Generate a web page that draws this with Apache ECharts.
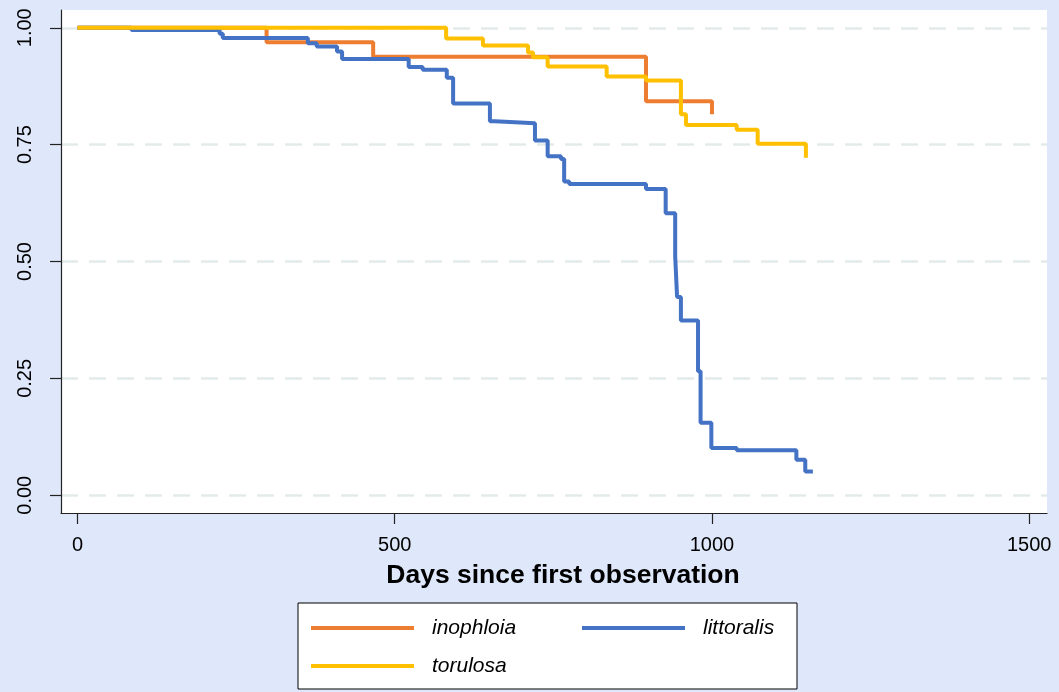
<!DOCTYPE html>
<html>
<head>
<meta charset="utf-8">
<script src="https://cdn.jsdelivr.net/npm/echarts@6/dist/echarts.min.js"></script>
<style>
  html, body { margin: 0; padding: 0; background: #dfe7fa; }
  #chart { width: 1059px; height: 692px; }
</style>
</head>
<body>
<div id="chart"></div>
<script>
// ---- data ----
const seriesNames = ['inophloia', 'littoralis', 'torulosa'];
const seriesColors = ['#ED7D31', '#4472C4', '#FFC000'];

const inophloiaDays = [0, 298, 466, 896, 1000];
const inophloiaSurv = [1.0, 0.969, 0.938, 0.843, 0.815];

const littoralisDays = [0, 85, 224, 229, 363, 377, 409, 417, 522, 544, 582, 592, 650, 658, 721, 741, 762, 767, 775, 896, 927, 942, 945, 951, 978, 982, 999, 1039, 1133, 1147, 1159];
const littoralisSurv = [1.0, 0.995, 0.987, 0.978, 0.967, 0.960, 0.949, 0.933, 0.916, 0.910, 0.893, 0.838, 0.800, 0.796, 0.759, 0.725, 0.719, 0.671, 0.666, 0.655, 0.603, 0.511, 0.424, 0.374, 0.265, 0.155, 0.101, 0.096, 0.076, 0.051, 0.051];

const torulosaDays = [0, 581, 639, 710, 718, 741, 834, 896, 951, 959, 1039, 1072, 1148];
const torulosaSurv = [1.0, 0.977, 0.962, 0.947, 0.937, 0.917, 0.896, 0.887, 0.815, 0.792, 0.782, 0.752, 0.722];

const xTicks = [0, 500, 1000, 1500];
const yTicks = [0, 0.25, 0.5, 0.75, 1.0];
const xTitle = 'Days since first observation';

// ---- build ----
const pairs = (xs, ys) => xs.map((x, i) => [x, ys[i]]);
const allData = [
  pairs(inophloiaDays, inophloiaSurv),
  pairs(littoralisDays, littoralisSurv),
  pairs(torulosaDays, torulosaSurv)
];

const FONT = '"Liberation Sans", Arial, Helvetica, sans-serif';
const chart = echarts.init(document.getElementById('chart'), null, { renderer: 'canvas' });

chart.setOption({
  animation: false,
  backgroundColor: '#dfe7fa',
  grid: {
    left: 61, right: 12, top: 10, bottom: 179,
    show: true, backgroundColor: '#ffffff', borderWidth: 0
  },
  xAxis: {
    type: 'value',
    min: -26, max: 1528,
    axisLine: { show: true, onZero: false, lineStyle: { color: '#222', width: 1.2 } },
    axisTick: { show: true, customValues: xTicks, length: 11, inside: false, lineStyle: { color: '#222', width: 1.2 } },
    axisLabel: {
      customValues: xTicks, margin: 22, fontSize: 20, color: '#000', fontFamily: FONT,
      formatter: v => String(v)
    },
    splitLine: { show: false },
    name: xTitle,
    nameLocation: 'middle',
    nameGap: 49,
    nameTextStyle: { fontSize: 26.5, fontWeight: 'bold', color: '#000', fontFamily: FONT, padding: [0, 0, 0, 18] }
  },
  yAxis: {
    type: 'value',
    min: -0.038, max: 1.038,
    axisLine: { show: true, onZero: false, lineStyle: { color: '#222', width: 1.2 } },
    axisTick: { show: true, customValues: yTicks, length: 11, inside: false, lineStyle: { color: '#222', width: 1.2 } },
    axisLabel: {
      customValues: yTicks, rotate: 90, margin: 26, fontSize: 20, color: '#000', fontFamily: FONT,
      formatter: v => v.toFixed(2)
    },
    splitLine: {
      show: true,
      lineStyle: { color: '#e3eaea', width: 2.5, type: [17, 11] }
    }
  },
  legend: {
    data: seriesNames,
    orient: 'horizontal',
    left: 298, top: 603,
    width: 560,
    padding: [13, 10, 11, 13],
    itemGap: 14,
    itemWidth: 103,
    itemHeight: 4,
    icon: 'rect',
    backgroundColor: '#ffffff',
    borderColor: '#000',
    borderWidth: 1,
    borderRadius: 0,
    formatter: name => (name === 'littoralis' ? '{s| }{b|' + name + '}' : '{s| }{a|' + name + '}'),
    textStyle: {
      fontSize: 21, fontStyle: 'italic', color: '#000', fontFamily: FONT, lineHeight: 24,
      rich: {
        s: { width: 13, fontSize: 21, lineHeight: 24 },
        a: { width: 136, fontSize: 21, fontStyle: 'italic', color: '#000', fontFamily: FONT, lineHeight: 24 },
        b: { width: 84, fontSize: 21, fontStyle: 'italic', color: '#000', fontFamily: FONT, lineHeight: 24 }
      }
    }
  },
  series: seriesNames.map((name, i) => ({
    name: name,
    type: 'line',
    step: 'end',
    data: allData[i],
    showSymbol: false,
    symbol: 'none',
    color: seriesColors[i],
    lineStyle: { color: seriesColors[i], width: 4 },
    z: 2 + i
  }))
});
</script>
</body>
</html>
